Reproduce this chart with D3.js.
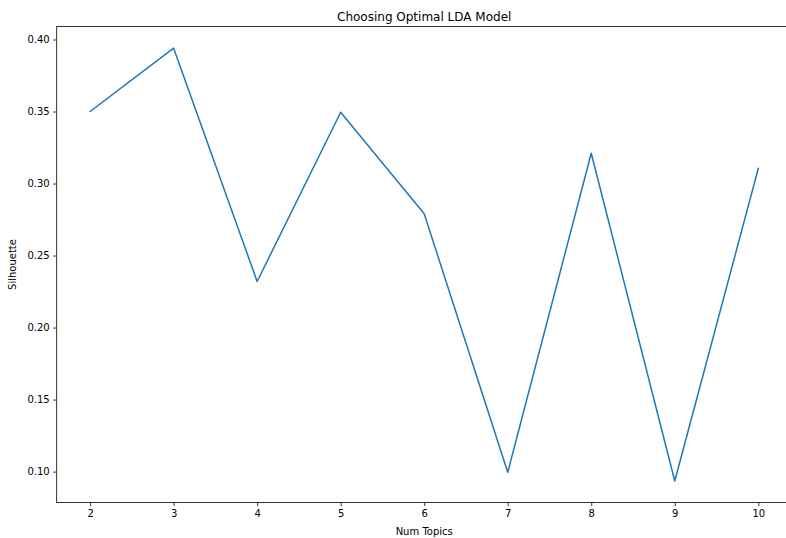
<!DOCTYPE html>
<html><head><meta charset="utf-8">
<script src="https://cdn.jsdelivr.net/npm/d3@7"></script>
<style>
html,body{margin:0;padding:0;background:#fff;overflow:hidden;}
svg{display:block;font-family:"DejaVu Sans",sans-serif;}
</style></head>
<body><svg id="c" width="786" height="538"></svg>
<script>
const numTopics = [2, 3, 4, 5, 6, 7, 8, 9, 10];
const silhouette = [0.350, 0.394, 0.232, 0.3495, 0.279, 0.0995, 0.321, 0.0935, 0.3105];
const yTicks = [0.10, 0.15, 0.20, 0.25, 0.30, 0.35, 0.40];
const xTicks = [2, 3, 4, 5, 6, 7, 8, 9, 10];

const svg = d3.select("#c");
const L = 56.7, R = 791.7, T = 26.5, B = 502.6;
const x = d3.scaleLinear().domain([1.6, 10.4]).range([L, R]);
const ymin = d3.min(silhouette), ymax = d3.max(silhouette), pad = (ymax - ymin) * 0.05;
const y = d3.scaleLinear().domain([ymin - pad, ymax + pad]).range([B, T]);

const line = d3.line().x((d, i) => x(numTopics[i])).y(d => y(d));
svg.append("path").datum(silhouette).attr("d", line)
  .attr("fill", "none").attr("stroke", "#1f77b4").attr("stroke-width", 1.5)
  .attr("stroke-linejoin", "round").attr("stroke-linecap", "square");

const xa = svg.append("g").attr("transform", `translate(0,${B})`)
  .call(d3.axisBottom(x).tickValues(xTicks).tickFormat(d3.format("d")).tickSize(3.5).tickPadding(3.5));
const ya = svg.append("g").attr("transform", `translate(${L},0)`)
  .call(d3.axisLeft(y).tickValues(yTicks).tickFormat(d3.format(".2f")).tickSize(3.5).tickPadding(3.5));
[xa, ya].forEach(g => {
  g.select(".domain").remove();
  g.selectAll("line").attr("stroke", "#000").attr("stroke-width", 0.8);
  g.selectAll("text").attr("font-size", 10).attr("fill", "#000").attr("font-family", "DejaVu Sans");
});

svg.append("rect").attr("x", L).attr("y", T).attr("width", R - L).attr("height", B - T)
  .attr("fill", "none").attr("stroke", "#000").attr("stroke-width", 0.8);

svg.append("text").attr("x", (L + R) / 2).attr("y", T - 6).attr("text-anchor", "middle")
  .attr("font-size", 12).text("Choosing Optimal LDA Model");
svg.append("text").attr("x", (L + R) / 2).attr("y", 535).attr("text-anchor", "middle")
  .attr("font-size", 10).text("Num Topics");
svg.append("text").attr("transform", `translate(16,${(T + B) / 2}) rotate(-90)`)
  .attr("text-anchor", "middle").attr("font-size", 10).text("Silhouette");
</script></body></html>
